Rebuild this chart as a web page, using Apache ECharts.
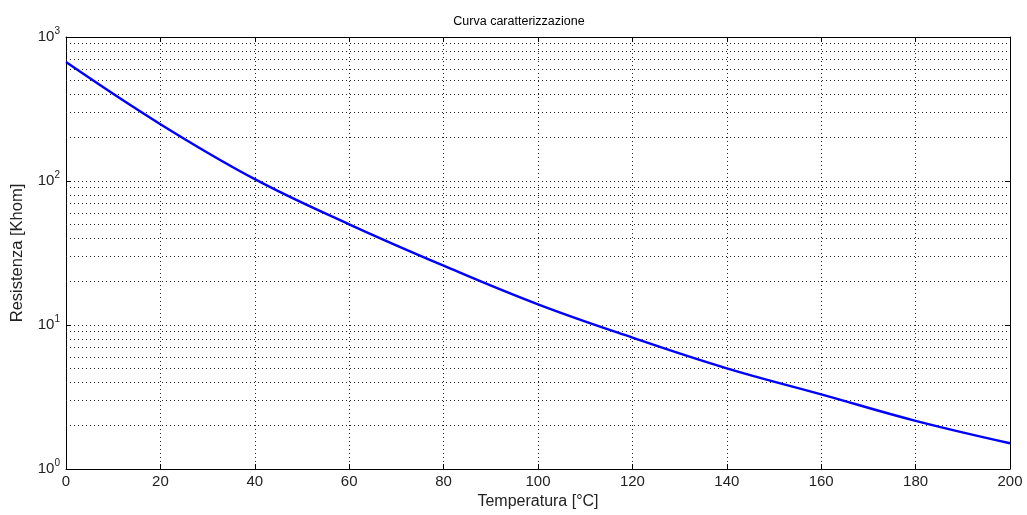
<!DOCTYPE html>
<html>
<head>
<meta charset="utf-8">
<script src="https://cdn.jsdelivr.net/npm/echarts@6/dist/echarts.min.js"></script>
<style>html,body{margin:0;padding:0;background:#fff}#c{width:1027px;height:515px}</style>
</head>
<body>
<div id="c"></div>
<script>
var temperatures = [0, 20, 40, 60, 80, 100, 120, 140, 160, 180, 200];
var resistance = [670, 248, 103, 50, 25.8, 13.9, 8.17, 5.0, 3.3, 2.16, 1.51];
var xTicks = [0, 20, 40, 60, 80, 100, 120, 140, 160, 180, 200];
var minorGridValues = [2,3,4,5,6,7,8,9,20,30,40,50,60,70,80,90,200,300,400,500,600,700,800,900];
var titleText = 'Curva caratterizzazione';
var xName = 'Temperatura [°C]';
var yName = 'Resistenza [Khom]';

var font = 'Liberation Sans, Arial, sans-serif';
var dotted = {color: '#222', width: 1, type: [1, 3]};
var chart = echarts.init(document.getElementById('c'));
chart.setOption({
  animation: false,
  backgroundColor: '#fff',
  title: {text: titleText, left: 514, top: 10, textAlign: 'center',
    textStyle: {fontFamily: font, fontSize: 12.5, fontWeight: 'normal', color: '#000'}},
  grid: {left: 66, right: 17, top: 37, bottom: 46, show: false},
  xAxis: [{
    type: 'value', min: 0, max: 200, interval: 20,
    name: xName, nameLocation: 'middle', nameGap: 22,
    nameTextStyle: {fontFamily: font, fontSize: 16, color: '#222'},
    axisLine: {onZero: false, lineStyle: {color: '#000', width: 1}},
    axisTick: {inside: true, length: 5, lineStyle: {color: '#000'}},
    axisLabel: {fontFamily: font, fontSize: 15, color: '#222', margin: 5},
    splitLine: {show: true, lineStyle: dotted}
  }, {
    type: 'value', min: 0, max: 200, interval: 20, position: 'top',
    axisLine: {onZero: false, lineStyle: {color: '#000', width: 1}},
    axisTick: {inside: true, length: 5, lineStyle: {color: '#000'}},
    axisLabel: {show: false}, splitLine: {show: false}
  }],
  yAxis: [{
    type: 'log', logBase: 10, min: 1, max: 1000,
    name: yName, nameLocation: 'middle', nameGap: 40, nameRotate: 90,
    nameTextStyle: {fontFamily: font, fontSize: 16.5, color: '#222'},
    axisLine: {onZero: false, lineStyle: {color: '#000', width: 1}},
    axisTick: {inside: true, length: 5, lineStyle: {color: '#000'}},
    axisLabel: {
      fontFamily: font, margin: 6,
      formatter: function (v) { return '{b|10}{s|' + Math.round(Math.log10(v)) + '}'; },
      rich: {
        b: {fontFamily: font, fontSize: 15, color: '#222'},
        s: {fontFamily: font, fontSize: 10, color: '#222', padding: [0, 0, 12, 0]}
      }
    },
    splitLine: {show: true, lineStyle: dotted}
  }, {
    type: 'log', logBase: 10, min: 1, max: 1000, position: 'right',
    axisLine: {onZero: false, lineStyle: {color: '#000', width: 1}},
    axisTick: {inside: true, length: 5, lineStyle: {color: '#000'}},
    axisLabel: {show: false}, splitLine: {show: false}
  }],
  series: [{
    type: 'line',
    data: temperatures.map(function (t, i) { return [t, resistance[i]]; }),
    showSymbol: false, smooth: 0.4,
    lineStyle: {color: '#0000ff', width: 2.4},
    markLine: {
      silent: true, symbol: 'none', label: {show: false},
      lineStyle: dotted, animation: false,
      data: minorGridValues.map(function (v) { return {yAxis: v}; })
    },
    z: 5
  }]
});
</script>
</body>
</html>
